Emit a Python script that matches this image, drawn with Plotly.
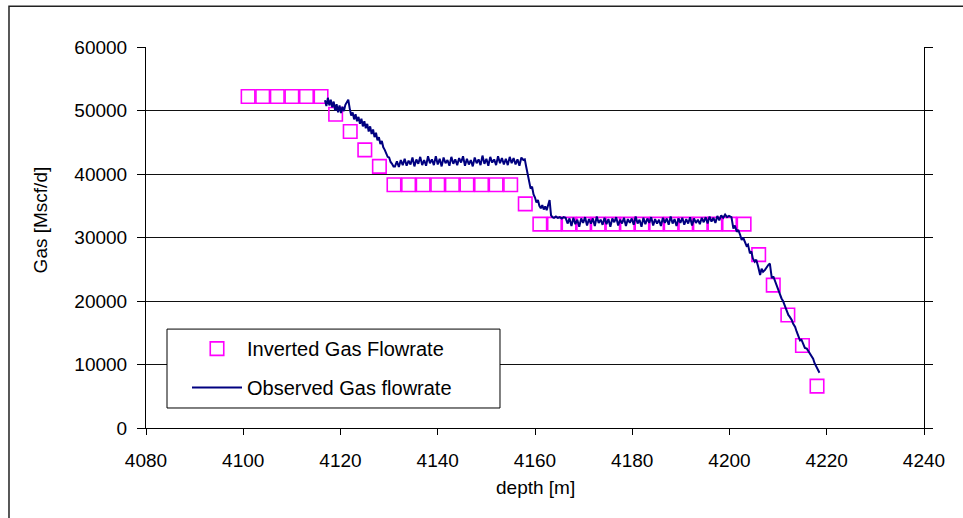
import plotly.graph_objects as go

# ---------------- data ----------------
inv_depth = [4101, 4104, 4107, 4110, 4113, 4116, 4119, 4122, 4125, 4128,
             4131, 4134, 4137, 4140, 4143, 4146, 4149, 4152, 4155, 4158,
             4161, 4164, 4167, 4170, 4173, 4176, 4179, 4182, 4185, 4188,
             4191, 4194, 4197, 4200, 4203, 4206, 4209, 4212, 4215, 4218]
inv_gas = [52200, 52200, 52200, 52200, 52200, 52200, 49400, 46700, 43800, 41200,
           38300, 38300, 38300, 38300, 38300, 38300, 38300, 38300, 38300, 35300,
           32100, 32100, 32100, 32100, 32100, 32100, 32100, 32100, 32100, 32100,
           32100, 32100, 32100, 32100, 32100, 27300, 22500, 17800, 13000, 6600]

obs_depth_a = [4116.8, 4117.1, 4117.4, 4117.7, 4118.0, 4118.3, 4118.6, 4118.9, 4119.2, 4119.5,
               4119.8, 4120.1, 4120.4, 4120.7, 4121.0, 4121.3, 4121.6, 4121.9, 4122.2, 4122.5,
               4122.8, 4123.1, 4123.4, 4123.7, 4124.0, 4124.3, 4124.6, 4124.9, 4125.2, 4125.5,
               4125.8, 4126.1, 4126.4, 4126.7, 4127.0, 4127.3, 4127.6, 4127.9, 4128.2, 4128.5,
               4128.8, 4129.1, 4129.4, 4129.7, 4130.0, 4130.3, 4130.6, 4130.9]
obs_gas_a = [51600, 50700, 52000, 50800, 51700, 50500, 51400, 50000, 51000, 49700,
             50800, 49600, 50600, 49900, 50900, 51400, 51700, 50300, 49200, 49700,
             48600, 49400, 48300, 49000, 47900, 48700, 47500, 48300, 47200, 47900,
             46700, 47500, 46300, 47000, 45800, 46500, 45300, 45800, 44700, 45200,
             44200, 43800, 43300, 42700, 42600, 41900, 41600, 41200]

obs_depth_b = [4131.2, 4131.6, 4132.0, 4132.4, 4132.8, 4133.2, 4133.6, 4134.0, 4134.4, 4134.8,
               4135.2, 4135.6, 4136.0, 4136.4, 4136.8, 4137.2, 4137.6, 4138.0, 4138.4, 4138.8,
               4139.2, 4139.6, 4140.0, 4140.4, 4140.8, 4141.2, 4141.6, 4142.0, 4142.4, 4142.8,
               4143.2, 4143.6, 4144.0, 4144.4, 4144.8, 4145.2, 4145.6, 4146.0, 4146.4, 4146.8,
               4147.2, 4147.6, 4148.0, 4148.4, 4148.8, 4149.2, 4149.6, 4150.0, 4150.4, 4150.8,
               4151.2, 4151.6, 4152.0, 4152.4, 4152.8, 4153.2, 4153.6, 4154.0, 4154.4, 4154.8,
               4155.2, 4155.6, 4156.0, 4156.4, 4156.8, 4157.2, 4157.6]
obs_gas_b = [41200, 42000, 41100, 42200, 41400, 42400, 41300, 42100, 41500, 42600,
             41200, 42300, 41600, 42700, 41400, 42200, 41300, 42800, 41700, 42300,
             41400, 42800, 41500, 42400, 41200, 42600, 41700, 42200, 41300, 42700,
             41600, 42300, 41400, 42500, 41800, 42800, 41300, 42400, 41500, 42200,
             41200, 42600, 41700, 42300, 41400, 42900, 41600, 42400, 41300, 42700,
             41800, 42300, 41400, 42800, 41700, 42500, 41500, 42400, 41400, 42700,
             41700, 42500, 41500, 42300, 41300, 42600, 42200]

obs_depth_c = [4157.9, 4158.2, 4158.5, 4158.8, 4159.1, 4159.4, 4159.7, 4160.0, 4160.3, 4160.6,
               4160.9, 4161.2, 4161.5, 4161.8, 4162.1, 4162.4, 4162.7, 4163.0, 4163.3, 4163.6]
obs_gas_c = [42300, 41100, 39900, 38700, 37700, 38000, 36800, 36300, 35500, 35900,
             35000, 34600, 35100, 34400, 34900, 34300, 35300, 35900, 33500, 33200]

obs_depth_d = [4163.9, 4164.3, 4164.7, 4165.1, 4165.5, 4165.9, 4166.3, 4166.7, 4167.1, 4167.5,
               4167.9, 4168.3, 4168.7, 4169.1, 4169.5, 4169.9, 4170.3, 4170.7, 4171.1, 4171.5,
               4171.9, 4172.3, 4172.7, 4173.1, 4173.5, 4173.9, 4174.3, 4174.7, 4175.1, 4175.5,
               4175.9, 4176.3, 4176.7, 4177.1, 4177.5, 4177.9, 4178.3, 4178.7, 4179.1, 4179.5,
               4179.9, 4180.3, 4180.7, 4181.1, 4181.5, 4181.9, 4182.3, 4182.7, 4183.1, 4183.5,
               4183.9, 4184.3, 4184.7, 4185.1, 4185.5, 4185.9, 4186.3, 4186.7, 4187.1, 4187.5,
               4187.9, 4188.3, 4188.7, 4189.1, 4189.5, 4189.9, 4190.3, 4190.7, 4191.1, 4191.5,
               4191.9, 4192.3, 4192.7, 4193.1, 4193.5, 4193.9, 4194.3, 4194.7, 4195.1, 4195.5,
               4195.9, 4196.3, 4196.7, 4197.1, 4197.5, 4197.9, 4198.3, 4198.7, 4199.1, 4199.5,
               4199.9]
obs_gas_d = [33100, 33300, 33100, 33200, 33000, 33200, 33100,
             32200, 33000, 31800, 33100, 32100, 32800, 31700, 33000, 32300, 33200,
             31900, 32900, 32200, 33000, 31800, 33300, 32300, 32800, 32000, 33100,
             32100, 32900, 31700, 33000, 32400, 33200, 31900, 32800, 32200, 33100,
             31800, 32900, 32300, 33000, 32000, 33300, 32200, 32800, 31700, 33100,
             32100, 33000, 32300, 33200, 31900, 32900, 32200, 32800, 31800, 33100,
             32300, 33000, 32000, 33300, 32200, 32900, 31800, 33000, 32300, 33100,
             32000, 32900, 32200, 33200, 31900, 33000, 32300, 32800, 32100, 33100,
             32400, 33200, 32200, 33300, 32500, 33100, 32300, 33400, 32700, 33500,
             33100, 33600, 33200, 33400]

obs_depth_e = [4200.4, 4200.8, 4201.1, 4201.5, 4201.8, 4202.2, 4202.5, 4202.8, 4203.2, 4203.5,
               4203.8, 4204.2, 4204.5, 4204.8, 4205.2, 4205.5, 4205.9, 4206.3, 4206.6, 4206.9,
               4207.3, 4207.6, 4208.0, 4208.3, 4208.7, 4209.0, 4209.4, 4209.7, 4210.0, 4210.4,
               4210.7, 4211.0, 4211.4, 4211.7, 4212.1, 4212.4, 4212.8, 4213.1, 4213.5, 4213.8,
               4214.1, 4214.5, 4214.8, 4215.2, 4215.5, 4215.9, 4216.2, 4216.6, 4216.9, 4217.2,
               4217.5, 4217.9, 4218.2, 4218.5]
obs_gas_e = [33200, 31400, 31900, 30900, 31200, 30400, 29600, 30000, 29100, 28700,
             28900, 27500, 27800, 26700, 26200, 26500, 25400, 24100, 25100, 24600,
             24900, 25300, 25700, 25900, 23600, 23900, 23000, 22400, 21700, 21100,
             20400, 20000, 19100, 18600, 17800, 17500, 17000, 16400, 15900, 15200,
             14600, 13800, 13900, 13300, 12600, 12500, 12100, 11700, 11200, 10900,
             10200, 9600, 9300, 8700]

obs_depth = obs_depth_a + obs_depth_b + obs_depth_c + obs_depth_d + obs_depth_e
obs_gas = obs_gas_a + obs_gas_b + obs_gas_c + obs_gas_d + obs_gas_e

x_ticks = [4080, 4100, 4120, 4140, 4160, 4180, 4200, 4220, 4240]
y_ticks = [0, 10000, 20000, 30000, 40000, 50000, 60000]

# ---------------- figure ----------------
FONT = "Liberation Sans, Arial, sans-serif"
fig = go.Figure()
fig.add_trace(go.Scatter(
    x=inv_depth, y=inv_gas, mode="markers", name="Inverted Gas Flowrate",
    legendgroup="a",
    marker=dict(symbol="square-open", size=13.5, color="#FF00FF",
                line=dict(width=1.6, color="#FF00FF"))))
fig.add_trace(go.Scatter(
    x=obs_depth, y=obs_gas, mode="lines", name="Observed Gas flowrate",
    legendgroup="b",
    line=dict(color="#000080", width=2)))

fig.update_layout(
    width=963, height=518,
    margin=dict(l=146, r=39, t=47, b=90),
    paper_bgcolor="white", plot_bgcolor="white",
    font=dict(family=FONT, size=19, color="black"),
    showlegend=True,
    legend=dict(x=0.027, y=0.2596, xanchor="left", yanchor="top",
                borderwidth=0, bgcolor="rgba(0,0,0,0)",
                font=dict(family=FONT, size=20, color="black"),
                tracegroupgap=10, traceorder="grouped",
                itemwidth=50, indentation=20),
    xaxis=dict(range=[4080, 4240], tickvals=x_ticks, ticktext=[str(v) for v in x_ticks],
               showgrid=False, zeroline=False, showline=True, linecolor="black", linewidth=1,
               ticks="outside", ticklen=6, tickcolor="black", ticklabelstandoff=9,
               tickfont=dict(family=FONT, size=19)),
    yaxis=dict(range=[0, 60000], tickvals=y_ticks, ticktext=[str(v) for v in y_ticks],
               showgrid=True, gridcolor="#111111", gridwidth=1, zeroline=False,
               showline=True, linecolor="black", linewidth=1, mirror="ticks",
               ticks="outside", ticklen=8, tickcolor="black", ticklabelstandoff=6,
               tickfont=dict(family=FONT, size=19)),
    annotations=[
        dict(text="Gas [Mscf/d]", xref="paper", yref="paper", x=-0.1362, y=0.545,
             xanchor="center", yanchor="middle",
             textangle=-90, showarrow=False, font=dict(family=FONT, size=19)),
        dict(text="depth [m]", xref="paper", yref="paper", x=0.5, y=-0.157,
             xanchor="center", yanchor="middle",
             showarrow=False, font=dict(family=FONT, size=19)),
    ],
    shapes=[
        dict(type="rect", xref="paper", yref="paper",
             x0=-0.1761, y0=-0.26, x1=1.06, y1=1.107,
             line=dict(color="#222222", width=1.5), fillcolor="rgba(0,0,0,0)"),
        dict(type="rect", xref="paper", yref="paper", layer="above",
             x0=0.027, y0=0.0525, x1=0.455, y1=0.2596,
             line=dict(color="black", width=1), fillcolor="white"),
    ],
)

fig.write_html("out.html")
